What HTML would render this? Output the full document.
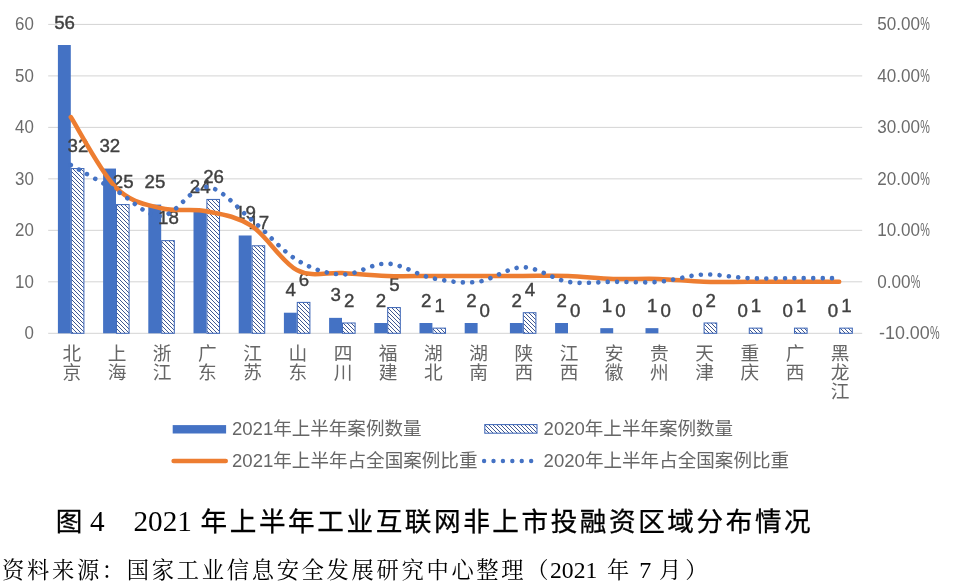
<!DOCTYPE html>
<html lang="zh-CN"><head><meta charset="utf-8"><title>图4 2021年上半年工业互联网非上市投融资区域分布情况</title>
<style>html,body{margin:0;padding:0;background:#fff}svg{display:block}</style></head>
<body>
<svg width="954" height="587" viewBox="0 0 954 587">
<defs><pattern id="h" width="4" height="4" patternUnits="userSpaceOnUse"><rect width="4" height="4" fill="#fff"/><path d="M-1,-1 L5,5 M-1,3 L1,5 M3,-1 L5,1" stroke="#2a4585" stroke-width="0.9"/></pattern></defs>
<rect width="954" height="587" fill="#fff"/>
<line x1="48.2" y1="333.30" x2="862.2" y2="333.30" stroke="#d4d4d4" stroke-width="1"/>
<line x1="48.2" y1="281.82" x2="862.2" y2="281.82" stroke="#d4d4d4" stroke-width="1"/>
<line x1="48.2" y1="230.34" x2="862.2" y2="230.34" stroke="#d4d4d4" stroke-width="1"/>
<line x1="48.2" y1="178.86" x2="862.2" y2="178.86" stroke="#d4d4d4" stroke-width="1"/>
<line x1="48.2" y1="127.38" x2="862.2" y2="127.38" stroke="#d4d4d4" stroke-width="1"/>
<line x1="48.2" y1="75.90" x2="862.2" y2="75.90" stroke="#d4d4d4" stroke-width="1"/>
<line x1="48.2" y1="24.42" x2="862.2" y2="24.42" stroke="#d4d4d4" stroke-width="1"/>
<g font-family='"Liberation Sans","Noto Sans CJK SC",sans-serif' font-size="18.7" fill="#6b6b6b">
<text x="33.8" y="339.1" text-anchor="end" textLength="9.4" lengthAdjust="spacingAndGlyphs">0</text>
<text x="33.8" y="287.6" text-anchor="end" textLength="18.8" lengthAdjust="spacingAndGlyphs">10</text>
<text x="33.8" y="236.1" text-anchor="end" textLength="18.8" lengthAdjust="spacingAndGlyphs">20</text>
<text x="33.8" y="184.7" text-anchor="end" textLength="18.8" lengthAdjust="spacingAndGlyphs">30</text>
<text x="33.8" y="133.2" text-anchor="end" textLength="18.8" lengthAdjust="spacingAndGlyphs">40</text>
<text x="33.8" y="81.7" text-anchor="end" textLength="18.8" lengthAdjust="spacingAndGlyphs">50</text>
<text x="33.8" y="30.2" text-anchor="end" textLength="18.8" lengthAdjust="spacingAndGlyphs">60</text>
<text y="339.1"><tspan x="879.0" textLength="50.8" lengthAdjust="spacingAndGlyphs">-10.00</tspan><tspan x="930.1" textLength="9.6" lengthAdjust="spacingAndGlyphs">%</tspan></text>
<text y="287.6"><tspan x="877.2" textLength="33.3" lengthAdjust="spacingAndGlyphs">0.00</tspan><tspan x="910.8" textLength="9.6" lengthAdjust="spacingAndGlyphs">%</tspan></text>
<text y="236.1"><tspan x="877.2" textLength="42.7" lengthAdjust="spacingAndGlyphs">10.00</tspan><tspan x="920.2" textLength="9.6" lengthAdjust="spacingAndGlyphs">%</tspan></text>
<text y="184.7"><tspan x="877.2" textLength="42.7" lengthAdjust="spacingAndGlyphs">20.00</tspan><tspan x="920.2" textLength="9.6" lengthAdjust="spacingAndGlyphs">%</tspan></text>
<text y="133.2"><tspan x="877.2" textLength="42.7" lengthAdjust="spacingAndGlyphs">30.00</tspan><tspan x="920.2" textLength="9.6" lengthAdjust="spacingAndGlyphs">%</tspan></text>
<text y="81.7"><tspan x="877.2" textLength="42.7" lengthAdjust="spacingAndGlyphs">40.00</tspan><tspan x="920.2" textLength="9.6" lengthAdjust="spacingAndGlyphs">%</tspan></text>
<text y="30.2"><tspan x="877.2" textLength="42.7" lengthAdjust="spacingAndGlyphs">50.00</tspan><tspan x="920.2" textLength="9.6" lengthAdjust="spacingAndGlyphs">%</tspan></text>
</g>
<rect x="57.90" y="45.01" width="12.9" height="288.29" fill="#4472c4"/>
<rect x="71.30" y="168.56" width="12.6" height="164.74" fill="url(#h)" stroke="#4169b8" stroke-width="1.05"/>
<rect x="103.10" y="168.56" width="12.9" height="164.74" fill="#4472c4"/>
<rect x="116.50" y="204.60" width="12.6" height="128.70" fill="url(#h)" stroke="#4169b8" stroke-width="1.05"/>
<rect x="148.30" y="204.60" width="12.9" height="128.70" fill="#4472c4"/>
<rect x="161.70" y="240.64" width="12.6" height="92.66" fill="url(#h)" stroke="#4169b8" stroke-width="1.05"/>
<rect x="193.50" y="209.75" width="12.9" height="123.55" fill="#4472c4"/>
<rect x="206.90" y="199.45" width="12.6" height="133.85" fill="url(#h)" stroke="#4169b8" stroke-width="1.05"/>
<rect x="238.70" y="235.49" width="12.9" height="97.81" fill="#4472c4"/>
<rect x="252.10" y="245.78" width="12.6" height="87.52" fill="url(#h)" stroke="#4169b8" stroke-width="1.05"/>
<rect x="283.90" y="312.71" width="12.9" height="20.59" fill="#4472c4"/>
<rect x="297.30" y="302.41" width="12.6" height="30.89" fill="url(#h)" stroke="#4169b8" stroke-width="1.05"/>
<rect x="329.10" y="317.86" width="12.9" height="15.44" fill="#4472c4"/>
<rect x="342.50" y="323.00" width="12.6" height="10.30" fill="url(#h)" stroke="#4169b8" stroke-width="1.05"/>
<rect x="374.30" y="323.00" width="12.9" height="10.30" fill="#4472c4"/>
<rect x="387.70" y="307.56" width="12.6" height="25.74" fill="url(#h)" stroke="#4169b8" stroke-width="1.05"/>
<rect x="419.50" y="323.00" width="12.9" height="10.30" fill="#4472c4"/>
<rect x="432.90" y="328.15" width="12.6" height="5.15" fill="url(#h)" stroke="#4169b8" stroke-width="1.05"/>
<rect x="464.70" y="323.00" width="12.9" height="10.30" fill="#4472c4"/>
<rect x="509.90" y="323.00" width="12.9" height="10.30" fill="#4472c4"/>
<rect x="523.30" y="312.71" width="12.6" height="20.59" fill="url(#h)" stroke="#4169b8" stroke-width="1.05"/>
<rect x="555.10" y="323.00" width="12.9" height="10.30" fill="#4472c4"/>
<rect x="600.30" y="328.15" width="12.9" height="5.15" fill="#4472c4"/>
<rect x="645.50" y="328.15" width="12.9" height="5.15" fill="#4472c4"/>
<rect x="704.10" y="323.00" width="12.6" height="10.30" fill="url(#h)" stroke="#4169b8" stroke-width="1.05"/>
<rect x="749.30" y="328.15" width="12.6" height="5.15" fill="url(#h)" stroke="#4169b8" stroke-width="1.05"/>
<rect x="794.50" y="328.15" width="12.6" height="5.15" fill="url(#h)" stroke="#4169b8" stroke-width="1.05"/>
<rect x="839.70" y="328.15" width="12.6" height="5.15" fill="url(#h)" stroke="#4169b8" stroke-width="1.05"/>
<g font-family='"Liberation Sans","Noto Sans CJK SC",sans-serif' font-size="18.9" fill="#404040" stroke="#404040" stroke-width="0.4" text-anchor="middle">
<text x="64.6" y="28.5" textLength="20.8" lengthAdjust="spacingAndGlyphs">56</text>
<text x="78.0" y="152.1" textLength="20.8" lengthAdjust="spacingAndGlyphs">32</text>
<text x="109.8" y="152.1" textLength="20.8" lengthAdjust="spacingAndGlyphs">32</text>
<text x="123.2" y="188.1" textLength="20.8" lengthAdjust="spacingAndGlyphs">25</text>
<text x="155.0" y="188.1" textLength="20.8" lengthAdjust="spacingAndGlyphs">25</text>
<text x="168.4" y="224.1" textLength="20.8" lengthAdjust="spacingAndGlyphs">18</text>
<text x="200.2" y="193.2" textLength="20.8" lengthAdjust="spacingAndGlyphs">24</text>
<text x="213.6" y="183.0" textLength="20.8" lengthAdjust="spacingAndGlyphs">26</text>
<text x="245.4" y="219.0" textLength="20.8" lengthAdjust="spacingAndGlyphs">19</text>
<text x="258.8" y="229.3" textLength="20.8" lengthAdjust="spacingAndGlyphs">17</text>
<text x="290.6" y="296.2" textLength="10.4" lengthAdjust="spacingAndGlyphs">4</text>
<text x="304.0" y="285.9" textLength="10.4" lengthAdjust="spacingAndGlyphs">6</text>
<text x="335.8" y="301.4" textLength="10.4" lengthAdjust="spacingAndGlyphs">3</text>
<text x="349.2" y="306.5" textLength="10.4" lengthAdjust="spacingAndGlyphs">2</text>
<text x="381.0" y="306.5" textLength="10.4" lengthAdjust="spacingAndGlyphs">2</text>
<text x="394.4" y="291.1" textLength="10.4" lengthAdjust="spacingAndGlyphs">5</text>
<text x="426.2" y="306.5" textLength="10.4" lengthAdjust="spacingAndGlyphs">2</text>
<text x="439.6" y="311.7" textLength="10.4" lengthAdjust="spacingAndGlyphs">1</text>
<text x="471.4" y="306.5" textLength="10.4" lengthAdjust="spacingAndGlyphs">2</text>
<text x="484.8" y="316.8" textLength="10.4" lengthAdjust="spacingAndGlyphs">0</text>
<text x="516.6" y="306.5" textLength="10.4" lengthAdjust="spacingAndGlyphs">2</text>
<text x="530.0" y="296.2" textLength="10.4" lengthAdjust="spacingAndGlyphs">4</text>
<text x="561.8" y="306.5" textLength="10.4" lengthAdjust="spacingAndGlyphs">2</text>
<text x="575.2" y="316.8" textLength="10.4" lengthAdjust="spacingAndGlyphs">0</text>
<text x="607.0" y="311.7" textLength="10.4" lengthAdjust="spacingAndGlyphs">1</text>
<text x="620.4" y="316.8" textLength="10.4" lengthAdjust="spacingAndGlyphs">0</text>
<text x="652.2" y="311.7" textLength="10.4" lengthAdjust="spacingAndGlyphs">1</text>
<text x="665.6" y="316.8" textLength="10.4" lengthAdjust="spacingAndGlyphs">0</text>
<text x="697.4" y="316.8" textLength="10.4" lengthAdjust="spacingAndGlyphs">0</text>
<text x="710.8" y="306.5" textLength="10.4" lengthAdjust="spacingAndGlyphs">2</text>
<text x="742.6" y="316.8" textLength="10.4" lengthAdjust="spacingAndGlyphs">0</text>
<text x="756.0" y="311.7" textLength="10.4" lengthAdjust="spacingAndGlyphs">1</text>
<text x="787.8" y="316.8" textLength="10.4" lengthAdjust="spacingAndGlyphs">0</text>
<text x="801.2" y="311.7" textLength="10.4" lengthAdjust="spacingAndGlyphs">1</text>
<text x="833.0" y="316.8" textLength="10.4" lengthAdjust="spacingAndGlyphs">0</text>
<text x="846.4" y="311.7" textLength="10.4" lengthAdjust="spacingAndGlyphs">1</text>
</g>
<path d="M70.80,117.08 C78.33,128.85 100.93,172.49 116.00,187.69 C131.07,202.88 146.13,204.35 161.20,208.28 C176.27,212.20 191.33,208.28 206.40,211.22 C221.47,214.16 236.53,216.12 251.60,225.93 C266.67,235.73 281.73,262.21 296.80,270.05 C311.87,277.90 326.93,272.01 342.00,272.99 C357.07,273.98 372.13,275.45 387.20,275.94 C402.27,276.43 417.33,275.94 432.40,275.94 C447.47,275.94 462.53,275.94 477.60,275.94 C492.67,275.94 507.73,275.94 522.80,275.94 C537.87,275.94 552.93,275.45 568.00,275.94 C583.07,276.43 598.13,278.39 613.20,278.88 C628.27,279.37 643.33,278.39 658.40,278.88 C673.47,279.37 688.53,281.33 703.60,281.82 C718.67,282.31 733.73,281.82 748.80,281.82 C763.87,281.82 778.93,281.82 794.00,281.82 C809.07,281.82 831.67,281.82 839.20,281.82" fill="none" stroke="#ed7d31" stroke-width="4.5" stroke-linecap="round" stroke-linejoin="round"/>
<path d="M70.80,164.99 C78.33,169.25 100.93,182.02 116.00,190.54 C131.07,199.06 146.13,216.71 161.20,216.10 C176.27,215.49 191.33,186.28 206.40,186.89 C221.47,187.50 236.53,207.58 251.60,219.75 C266.67,231.92 281.73,250.79 296.80,259.91 C311.87,269.04 326.93,273.91 342.00,274.52 C357.07,275.13 372.13,262.96 387.20,263.56 C402.27,264.17 417.33,275.13 432.40,278.17 C447.47,281.21 462.53,283.65 477.60,281.82 C492.67,279.99 507.73,267.22 522.80,267.22 C537.87,267.22 552.93,279.39 568.00,281.82 C583.07,284.25 598.13,281.82 613.20,281.82 C628.27,281.82 643.33,283.04 658.40,281.82 C673.47,280.60 688.53,275.13 703.60,274.52 C718.67,273.91 733.73,277.56 748.80,278.17 C763.87,278.78 778.93,278.17 794.00,278.17 C809.07,278.17 831.67,278.17 839.20,278.17" fill="none" stroke="#4472c4" stroke-width="4.6" stroke-linecap="round" stroke-dasharray="0.01 9.367"/>
<g font-family='"Liberation Sans","Noto Sans CJK SC",sans-serif' font-size="18.7" fill="#666" text-anchor="middle">
<text x="71.8" y="360.1">北</text>
<text x="71.8" y="378.8">京</text>
<text x="117.0" y="360.1">上</text>
<text x="117.0" y="378.8">海</text>
<text x="162.2" y="360.1">浙</text>
<text x="162.2" y="378.8">江</text>
<text x="207.4" y="360.1">广</text>
<text x="207.4" y="378.8">东</text>
<text x="252.6" y="360.1">江</text>
<text x="252.6" y="378.8">苏</text>
<text x="297.8" y="360.1">山</text>
<text x="297.8" y="378.8">东</text>
<text x="343.0" y="360.1">四</text>
<text x="343.0" y="378.8">川</text>
<text x="388.2" y="360.1">福</text>
<text x="388.2" y="378.8">建</text>
<text x="433.4" y="360.1">湖</text>
<text x="433.4" y="378.8">北</text>
<text x="478.6" y="360.1">湖</text>
<text x="478.6" y="378.8">南</text>
<text x="523.8" y="360.1">陕</text>
<text x="523.8" y="378.8">西</text>
<text x="569.0" y="360.1">江</text>
<text x="569.0" y="378.8">西</text>
<text x="614.2" y="360.1">安</text>
<text x="614.2" y="378.8">徽</text>
<text x="659.4" y="360.1">贵</text>
<text x="659.4" y="378.8">州</text>
<text x="704.6" y="360.1">天</text>
<text x="704.6" y="378.8">津</text>
<text x="749.8" y="360.1">重</text>
<text x="749.8" y="378.8">庆</text>
<text x="795.0" y="360.1">广</text>
<text x="795.0" y="378.8">西</text>
<text x="840.2" y="360.1">黑</text>
<text x="840.2" y="378.8">龙</text>
<text x="840.2" y="397.5">江</text>
</g>
<rect x="172.7" y="425.1" width="53.4" height="8.4" fill="#4472c4"/>
<rect x="484.8" y="424.6" width="52.2" height="8.6" fill="url(#h)" stroke="#4169b8" stroke-width="1.05"/>
<line x1="173.7" y1="461" x2="225.7" y2="461" stroke="#ed7d31" stroke-width="4.7" stroke-linecap="round"/>
<line x1="484.1" y1="461" x2="532" y2="461" stroke="#4472c4" stroke-width="4.4" stroke-linecap="round" stroke-dasharray="0.01 9.4"/>
<g font-family='"Liberation Sans","Noto Sans CJK SC",sans-serif' font-size="18.7" fill="#666">
<text x="232.0" y="435.2" textLength="189.5" lengthAdjust="spacingAndGlyphs">2021年上半年案例数量</text>
<text x="543.6" y="435.2" textLength="189.5" lengthAdjust="spacingAndGlyphs">2020年上半年案例数量</text>
<text x="232.0" y="466.8" textLength="245.5" lengthAdjust="spacingAndGlyphs">2021年上半年占全国案例比重</text>
<text x="543.6" y="466.8" textLength="245.5" lengthAdjust="spacingAndGlyphs">2020年上半年占全国案例比重</text>
</g>
<g font-size="29.24" fill="#000">
<text x="55.8" y="530.6" font-size="26.6" font-family='"Liberation Sans","Noto Sans CJK SC",sans-serif' stroke="#000" stroke-width="0.3">图</text>
<text x="90" y="531" font-family='"Liberation Serif","Noto Serif CJK SC",serif'>4</text>
<text x="133.5" y="531" font-family='"Liberation Serif","Noto Serif CJK SC",serif'>2021</text>
<text x="200.6" y="530.6" font-size="26.6" letter-spacing="2.58" font-family='"Liberation Sans","Noto Sans CJK SC",sans-serif' stroke="#000" stroke-width="0.3">年上半年工业互联网非上市投融资区域分布情况</text>
</g>
<g font-size="22.3" fill="#000" font-family='"Liberation Serif","Noto Serif CJK SC",serif'>
<text x="2.0" y="578" letter-spacing="2.67">资料来源：国家工业信息安全发展研究中心整理</text>
<text x="526.3" y="578">（</text>
<text x="550" y="578" font-size="24" textLength="47.3" lengthAdjust="spacingAndGlyphs">2021</text>
<text x="607" y="578">年</text>
<text x="639.3" y="578" font-size="24">7</text>
<text x="659" y="578">月</text>
<text x="685.2" y="578">）</text>
</g>
</svg>
</body></html>
